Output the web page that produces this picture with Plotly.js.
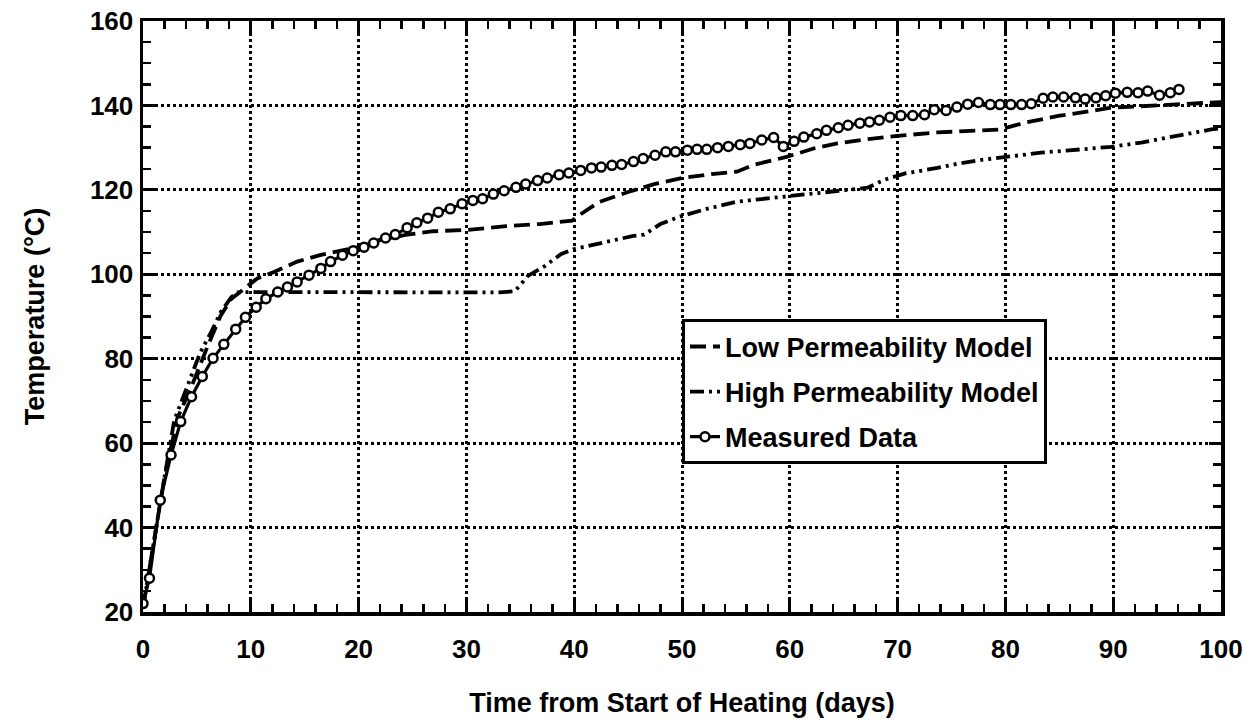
<!DOCTYPE html>
<html>
<head>
<meta charset="utf-8">
<script src="https://cdn.plot.ly/plotly-3.0.1.min.js"></script>
<style>
  html, body { margin: 0; padding: 0; background: #fff; }
  #chart { width: 1256px; height: 725px; }
</style>
</head>
<body>
<div id="chart"></div>
<script>
// Measured data (days, °C)
const measuredDays = [0, 0.6, 1.6, 2.6, 3.5, 4.5, 5.5, 6.5, 7.5, 8.6, 9.5, 10.5, 11.4, 12.5, 13.4, 14.3, 15.4, 16.5, 17.4, 18.5, 19.5, 20.5, 21.4, 22.5, 23.4, 24.5, 25.4, 26.4, 27.4, 28.5, 29.6, 30.6, 31.5, 32.5, 33.5, 34.6, 35.5, 36.6, 37.5, 38.6, 39.5, 40.6, 41.6, 42.5, 43.5, 44.4, 45.5, 46.4, 47.5, 48.5, 49.4, 50.5, 51.4, 52.3, 53.3, 54.3, 55.4, 56.3, 57.4, 58.5, 59.4, 60.4, 61.3, 62.5, 63.4, 64.5, 65.4, 66.5, 67.4, 68.3, 69.3, 70.3, 71.4, 72.5, 73.4, 74.5, 75.5, 76.5, 77.5, 78.6, 79.5, 80.5, 81.5, 82.4, 83.5, 84.4, 85.4, 86.5, 87.4, 88.4, 89.3, 90.2, 91.3, 92.3, 93.2, 94.3, 95.3, 96.1];
const measuredTemp = [22, 28, 46.5, 57.2, 65.1, 71, 75.8, 80.1, 83.4, 87, 89.8, 92.2, 94.2, 95.8, 97, 98.2, 99.8, 101.4, 103, 104.5, 105.6, 106.4, 107.4, 108.6, 109.4, 111, 112.2, 113.3, 114.7, 115.5, 116.7, 117.5, 117.9, 119, 119.8, 120.6, 121.4, 122.2, 122.8, 123.6, 124, 124.6, 125.2, 125.4, 125.8, 126, 126.7, 127.4, 128.2, 129, 129, 129.4, 129.6, 129.6, 130, 130.3, 130.7, 131, 131.8, 132.4, 130.3, 131.5, 132.5, 133.3, 134.1, 134.7, 135.3, 135.8, 136.1, 136.5, 137.2, 137.6, 137.6, 137.8, 139, 138.8, 139.6, 140.3, 140.7, 140.2, 140.2, 140.2, 140.2, 140.4, 141.7, 142, 142, 141.8, 141.5, 141.8, 142.3, 142.9, 143.1, 143, 143.4, 142.4, 143, 143.8];

// Low permeability model
const lowDays = [0, 1, 2, 3.2, 4.5, 6, 7.2, 8.2, 9.4, 10.6, 12.2, 14.3, 16.5, 18.6, 20.3, 22, 24.5, 26.9, 30, 33.7, 36.8, 39.8, 40.4, 42.3, 45, 47.5, 50, 53, 55.1, 56.6, 59.7, 62.2, 64.4, 67.5, 70, 73.7, 77.8, 79.5, 81.8, 84.9, 88, 89.8, 92.6, 95.7, 98.1, 100];
const lowTemp = [21, 37, 52, 66, 73.4, 83, 90.2, 94.2, 96.6, 99, 100.6, 103, 104.6, 105.8, 106.6, 108.2, 109.4, 110.2, 110.5, 111.4, 111.9, 112.7, 113.9, 117.1, 119.5, 121.4, 122.8, 123.8, 124.3, 125.9, 127.8, 129.8, 131, 132.1, 132.8, 133.6, 134.1, 134.3, 135.9, 137.5, 138.7, 139.5, 139.8, 140.2, 140.6, 140.8];

// High permeability model
const highDays = [0, 1, 2, 2.9, 4.3, 5.3, 6.3, 7.2, 8.2, 8.8, 10, 15, 20, 25, 30, 33.1, 34.5, 35.7, 37.3, 38.8, 40, 42.5, 45.5, 46.5, 48, 49.6, 52.3, 55.1, 59.7, 64.4, 67.2, 68.8, 70.7, 73.7, 75.6, 77.8, 79.6, 83.3, 88, 89.8, 92.6, 95.7, 97.2, 99.1, 100];
const highTemp = [21, 37, 52, 65.4, 74.6, 81.4, 86.2, 91, 94.6, 95.7, 95.8, 95.8, 95.8, 95.7, 95.8, 95.7, 96, 99.6, 102, 104.8, 106, 107.5, 109.1, 109.4, 111.9, 113.5, 115.5, 117.2, 118.4, 119.6, 120.5, 122.4, 123.9, 125.2, 126.2, 127.1, 127.7, 128.8, 129.8, 130.2, 131.2, 132.8, 133.4, 134.3, 134.6];

const seriesNames = ["Low Permeability Model", "High Permeability Model", "Measured Data"];
const xTitle = "Time from Start of Heating (days)";
const yTitle = "Temperature (°C)";

const FONT = "Liberation Sans, Arial, Helvetica, sans-serif";

const traces = [
  {
    x: lowDays, y: lowTemp, name: seriesNames[0], mode: "lines", legendgroup: "a",
    line: { color: "#000", width: 3.8, dash: "16px,7px" }
  },
  {
    x: highDays, y: highTemp, name: seriesNames[1], mode: "lines", legendgroup: "b",
    line: { color: "#000", width: 3.8, dash: "14px,5px,3px,5px,3px,5px" }
  },
  {
    x: measuredDays, y: measuredTemp, name: seriesNames[2], mode: "lines+markers", legendgroup: "c",
    line: { color: "#000", width: 3.2 },
    marker: { symbol: "circle", size: 9, color: "#fff", line: { color: "#000", width: 2.5 } }
  }
];

const axisCommon = {
  showline: true, linecolor: "#000", linewidth: 3.5, mirror: "allticks",
  ticks: "inside", ticklen: 12, tickwidth: 3, tickcolor: "#000",
  showgrid: true, gridcolor: "#000", gridwidth: 3, griddash: "dot",
  zeroline: false,
  tickfont: { family: FONT, size: 26, color: "#000", weight: "bold" }
};

const layout = {
  width: 1256, height: 725,
  paper_bgcolor: "#fff", plot_bgcolor: "#fff",
  margin: { l: 143, r: 35, t: 21, b: 113 },
  showlegend: true,
  xaxis: Object.assign({}, axisCommon, {
    range: [0, 100], dtick: 10, tick0: 0,
    minor: { dtick: 2, ticks: "inside", ticklen: 8, tickwidth: 2.5, tickcolor: "#000", showgrid: false },
    ticklabelstandoff: 11,
    title: { text: xTitle, font: { family: FONT, size: 27, color: "#000", weight: "bold" }, standoff: 31 }
  }),
  yaxis: Object.assign({}, axisCommon, {
    range: [20, 160], dtick: 20, tick0: 20,
    minor: { dtick: 5, ticks: "inside", ticklen: 8, tickwidth: 2.5, tickcolor: "#000", showgrid: false },
    ticklabelstandoff: 1,
    title: { text: yTitle, font: { family: FONT, size: 27, color: "#000", weight: "bold" }, standoff: 38 }
  }),
  legend: {
    x: 0.5, y: 0.495, xanchor: "left", yanchor: "top",
    bgcolor: "#fff", bordercolor: "#000", borderwidth: 3,
    font: { family: FONT, size: 27, color: "#000", weight: "bold" },
    tracegroupgap: 7
  }
};

Plotly.newPlot("chart", traces, layout, { staticPlot: true, displayModeBar: false });
</script>
</body>
</html>
